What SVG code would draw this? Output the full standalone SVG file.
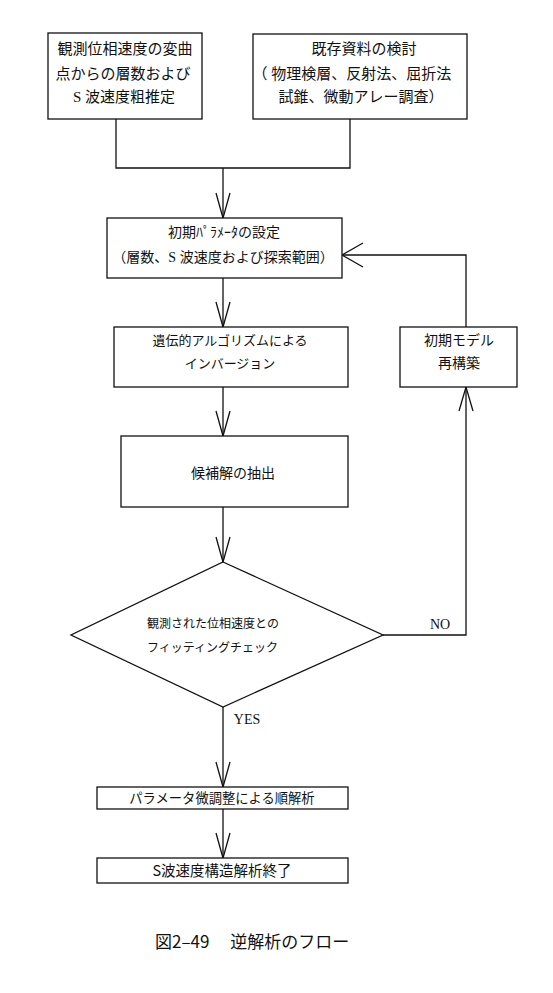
<svg xmlns="http://www.w3.org/2000/svg" width="553" height="993" viewBox="0 0 553 993">
<style>
.box{fill:#fff;stroke:#111;stroke-width:1.3}
.ln{fill:none;stroke:#111;stroke-width:1.3}
.m{font-family:"Liberation Serif","Noto Sans CJK JP",serif;fill:#111;text-anchor:middle}
.g{font-family:"Noto Sans CJK JP","Liberation Sans",sans-serif;fill:#111;text-anchor:middle}
</style>
<rect width="553" height="993" fill="#fff"/>
<g id="connectors">
<path class="ln" d="M116,119 V168 H350 V119"/>
<path class="ln" d="M223,168 V218"/>
<path class="ln" d="M216,193 L223,218 L230,193"/>
<path class="ln" d="M223,278 V327"/>
<path class="ln" d="M216,302 L223,327 L230,302"/>
<path class="ln" d="M223,387 V436"/>
<path class="ln" d="M216,411 L223,436 L230,411"/>
<path class="ln" d="M223,507 V562"/>
<path class="ln" d="M216,537 L223,562 L230,537"/>
<path class="ln" d="M383,635 H466 V387"/>
<path class="ln" d="M459,411 L466,387 L473,411"/>
<path class="ln" d="M466,327 V255 H342"/>
<path class="ln" d="M363,243 L342,255 L363,267"/>
<path class="ln" d="M223,707 V787"/>
<path class="ln" d="M216,762 L223,787 L230,762"/>
<path class="ln" d="M223,809 V858"/>
<path class="ln" d="M216,833 L223,858 L230,833"/>
<text x="440" y="629" font-family="Liberation Serif,serif" font-size="14" fill="#111" text-anchor="middle">NO</text>
<text x="247" y="724" font-family="Liberation Serif,serif" font-size="14" fill="#111" text-anchor="middle">YES</text>
</g>
<g id="n1">
<rect class="box" x="48" y="33" width="154" height="86"/>
<text class="m" font-size="15" x="125" y="53.5">観測位相速度の変曲</text>
<text class="m" font-size="15" x="123" y="78.5">点からの層数および</text>
<text class="m" font-size="15" x="124" y="101.5">S 波速度粗推定</text>
</g>
<g id="n2">
<rect class="box" x="253" y="34" width="214" height="85"/>
<text class="m" font-size="15" x="364" y="53.5">既存資料の検討</text>
<text class="m" font-size="15" x="352" y="78.5">（ 物理検層、反射法、屈折法</text>
<text class="m" font-size="15" x="361" y="101.5">試錐、微動アレー調査）</text>
</g>
<g id="n3">
<rect class="box" x="107" y="218" width="235" height="60"/>
<text class="m" font-size="14" x="224" y="237">初期ﾊﾟﾗﾒｰﾀの設定</text>
<text class="m" font-size="14" x="223" y="262">（層数、S 波速度および探索範囲）</text>
</g>
<g id="n4">
<rect class="box" x="114" y="327" width="234" height="60"/>
<text class="g" font-size="13" x="230" y="345">遺伝的アルゴリズムによる</text>
<text class="g" font-size="13" x="230" y="368">インバージョン</text>
</g>
<g id="n5">
<rect class="box" x="400" y="327" width="117" height="60"/>
<text class="g" font-size="14" x="459" y="345">初期モデル</text>
<text class="g" font-size="14" x="459" y="368">再構築</text>
</g>
<g id="n6">
<rect class="box" x="121" y="436" width="227" height="71"/>
<text class="g" font-size="14" x="233" y="478">候補解の抽出</text>
</g>
<g id="n7">
<polygon class="box" points="223,562 383,635 223,707 71,635"/>
<text class="g" font-size="12" x="147" y="628" style="text-anchor:start">観測された位相速度との</text>
<text class="g" font-size="12" x="147" y="652" style="text-anchor:start">フィッティングチェック</text>
</g>
<g id="n8">
<rect class="box" x="97" y="787" width="251" height="22"/>
<text class="g" font-size="13.3" x="222" y="803">パラメータ微調整による順解析</text>
</g>
<g id="n9">
<rect class="box" x="97" y="858" width="251" height="25"/>
<text class="g" font-size="14.5" x="222" y="876">S波速度構造解析終了</text>
</g>
<g id="caption">
<text class="g" font-size="17" x="155" y="948" style="text-anchor:start">図2–49　 逆解析のフロー</text>
</g>
</svg>
